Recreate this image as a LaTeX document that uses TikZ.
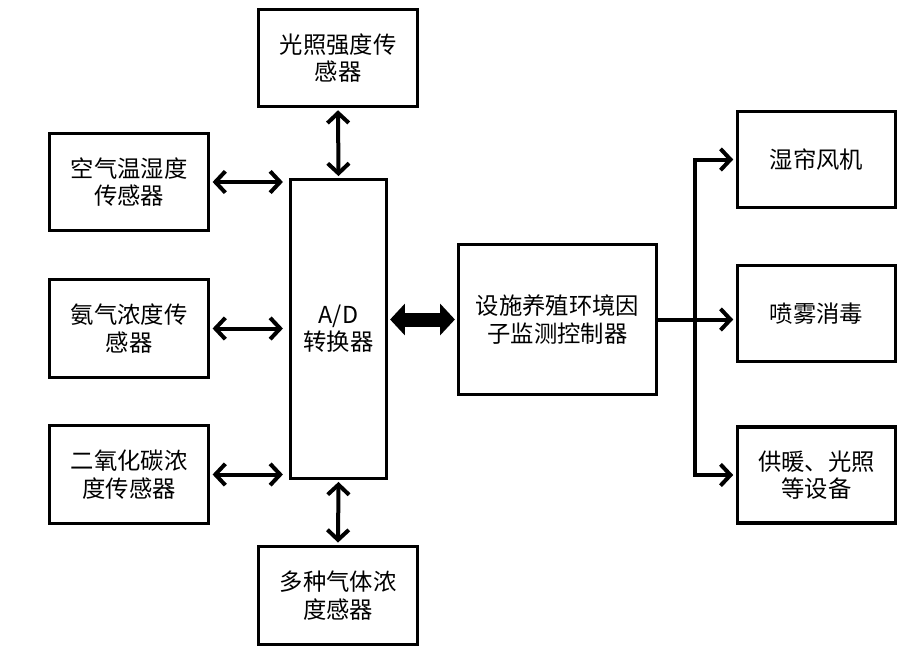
\documentclass[tikz,border=0pt]{standalone}
\usepackage{fontspec}
\newfontfamily\cjk{Noto Sans CJK SC}
\usetikzlibrary{arrows.meta}
\tikzset{every picture/.style={line width=2.4pt}}
\tikzset{
	blk/.style={draw, line width=2.4pt, align=center, inner sep=0pt,
		font=\cjk\fontsize{17.5}{20.5}\selectfont},
	sensor/.style={blk, minimum width=119pt, minimum height=73pt},
	outbox/.style={blk, minimum width=118.5pt, minimum height=72pt},
	link/.style={line width=3pt, {Straight Barb[length=7.5pt,width=16pt]}-{Straight Barb[length=7.5pt,width=16pt]}},
	feed/.style={line width=3pt, -{Straight Barb[length=7.5pt,width=16pt]}},
	bus/.style={line width=10.5pt, {Triangle[length=11pt,width=23pt]}-{Triangle[length=11pt,width=23pt]}}}

\begin{document}
\begin{tikzpicture}[x=0.75pt,y=0.75pt,yscale=-1,xscale=1]
	\useasboundingbox (0,0) rectangle (908,664);

	%Shape: Rectangle
	\node[sensor] (light) at (338,58) {光照强度传\\感器};
	\node[sensor] (air) at (129,182) {空气温湿度\\传感器};
	\node[sensor] (nh3) at (129,328.5) {氨气浓度传\\感器};
	\node[sensor] (co2) at (129,474.5) {二氧化碳浓\\度传感器};
	\node[sensor] (gas) at (338,595.5) {多种气体浓\\度感器};
	\node[blk, minimum width=72pt, minimum height=224pt] (ad) at (338.5,329) {A/D\\转换器};
	\node[blk, minimum width=148.5pt, minimum height=112.5pt] (ctrl) at (557.5,319.5) {设施养殖环境因\\子监测控制器};
	\node[outbox] (fan) at (816.5,159.5) {湿帘风机};
	\node[outbox] (spray) at (816.5,313.5) {喷雾消毒};
	\node[outbox] (heat) at (816.5,475) {供暖、光照\\等设备};

	%Straight Lines
	\draw[link, shorten <=1.5pt, shorten >=1.5pt] (light.south) -- (ad.north);
	\draw[link, shorten <=1.5pt, shorten >=2pt] (ad.south) -- (gas.north);
	\draw[link, shorten <=2pt, shorten >=4.5pt] (air.east) -- (air.east -| ad.west);
	\draw[link, shorten <=2pt, shorten >=4.5pt] (nh3.east) -- (nh3.east -| ad.west);
	\draw[link, shorten <=2pt, shorten >=4.5pt] (co2.east) -- (co2.east -| ad.west);
	\draw[bus, shorten <=1.5pt, shorten >=1.5pt] (ad.east |- ctrl.west) -- (ctrl.west);

	%Straight Lines
	\coordinate (split) at (695,319.5);
	\draw[feed, shorten >=2pt] (ctrl.east) -- (ctrl.east -| spray.west);
	\draw[feed, shorten >=2pt] (split) |- (fan.west);
	\draw[feed, shorten >=2pt] (split) |- (heat.west);

\end{tikzpicture}
\end{document}
